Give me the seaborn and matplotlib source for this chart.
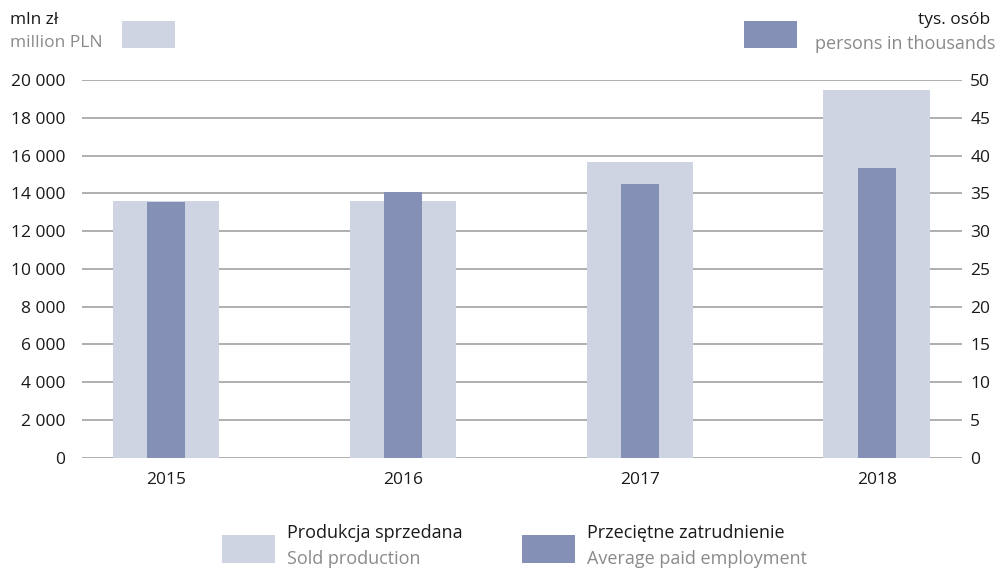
import matplotlib
matplotlib.use("Agg")
import matplotlib.pyplot as plt
import seaborn as sns
import pandas as pd
from matplotlib.patches import Rectangle

years = ["2015", "2016", "2017", "2018"]
sold_production = [13620, 13590, 15680, 19450]   # mln zł
employment = [33.9, 35.2, 36.3, 38.4]            # tys. osób
left_ticks = list(range(0, 20001, 2000))
right_ticks = list(range(0, 51, 5))

light = "#ced4e2"
dark = "#8490b6"
grey_txt = "#8a8a8a"

sns.set_style("white")
plt.rcParams["font.family"] = ["Open Sans", "DejaVu Sans"]

df = pd.DataFrame({"year": years, "sold": sold_production, "emp": employment})

fig = plt.figure(figsize=(10, 5.68), dpi=100)
ax = fig.add_axes([0.082, 0.194, 0.88, 0.665])
ax2 = ax.twinx()

sns.barplot(data=df, x="year", y="sold", color=light, width=0.45, saturation=1,
            linewidth=0, ax=ax)
sns.barplot(data=df, x="year", y="emp", color=dark, width=0.16, saturation=1,
            linewidth=0, ax=ax2)

ax.set_ylim(0, 20000)
ax2.set_ylim(0, 50)
ax.set_xlim(-0.355, 3.36)
ax.set_yticks(left_ticks)
ax.set_yticklabels([f"{v:,}".replace(",", " ") for v in left_ticks])
ax2.set_yticks(right_ticks)
ax2.set_yticklabels([str(v) for v in right_ticks])

ax.set_axisbelow(True)
ax.yaxis.grid(True, color="#9a9a9a", lw=1.1)
ax.xaxis.grid(False)
for a in (ax, ax2):
    for s in a.spines.values():
        s.set_visible(False)
    a.set_xlabel("")
    a.set_ylabel("")
    a.tick_params(length=0, labelsize=12.5, colors="#1a1a1a")
ax.tick_params(axis="y", pad=12)
ax2.tick_params(axis="y", pad=6)
ax.tick_params(axis="x", pad=10)
ax.set_zorder(0)
ax2.set_zorder(1)
ax.patch.set_visible(False)

# axis headers
fig.text(0.010, 0.965, "mln zł", fontsize=12.5, color="#1a1a1a", va="center")
fig.text(0.010, 0.925, "million PLN", fontsize=12.5, color=grey_txt, va="center")
fig.patches.append(Rectangle((0.122, 0.916), 0.053, 0.047, transform=fig.transFigure,
                             facecolor=light, edgecolor="none"))
fig.text(0.990, 0.965, "tys. osób", fontsize=12.5, color="#1a1a1a", va="center", ha="right")
fig.text(0.995, 0.922, "persons in thousands", fontsize=13, color=grey_txt, va="center", ha="right")
fig.patches.append(Rectangle((0.744, 0.916), 0.053, 0.047, transform=fig.transFigure,
                             facecolor=dark, edgecolor="none"))

# legend at bottom
for x0, col, l1, l2 in [(0.222, light, "Produkcja sprzedana", "Sold production"),
                        (0.522, dark, "Przeciętne zatrudnienie", "Average paid employment")]:
    fig.patches.append(Rectangle((x0, 0.009), 0.053, 0.049, transform=fig.transFigure,
                                 facecolor=col, edgecolor="none"))
    fig.text(x0 + 0.065, 0.062, l1, fontsize=13, color="#1a1a1a", va="center")
    fig.text(x0 + 0.065, 0.016, l2, fontsize=13, color=grey_txt, va="center")

fig.savefig("out.png", dpi=100)
